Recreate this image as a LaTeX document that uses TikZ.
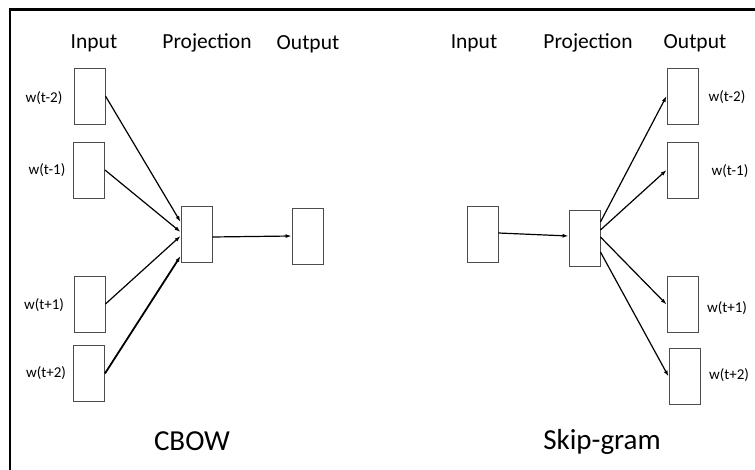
\documentclass[tikz,border=0pt]{standalone}
\usepackage{fontspec}
\setmainfont{Carlito}
\usetikzlibrary{arrows.meta}

\tikzset{
  vec/.style={draw=black!70, line width=0.9pt, minimum width=31pt, minimum height=56pt, inner sep=0pt},
  head/.style={font=\fontsize{21.5}{21.5}\selectfont, inner sep=0pt},
  word/.style={font=\fontsize{15}{15}\selectfont, inner sep=0pt},
  title/.style={font=\fontsize{29}{29}\selectfont, inner sep=0pt},
  link/.style={draw=black, line width=1.2pt, -{Latex[length=6pt,width=4pt]}},
}

\begin{document}
\begin{tikzpicture}[x=1pt, y=-1pt]
\useasboundingbox (0,0) rectangle (755,470);
\fill[white] (0,0) rectangle (755,470);
% frame along the top and left edges
\draw[line width=2.6pt] (10,475) -- (10,9.3) -- (760,9.3);

% ---------------- CBOW ----------------
\node[head] (hin1) at (94,43) {Input};
\node[head] (hpr1) at (207,43) {Projection};
\node[head] (hout1) at (308,44) {Output};

\node[vec] (c1) at (89.5,96) {};
\node[vec] (c2) at (89,170) {};
\node[vec] (c3) at (89.5,304) {};
\node[vec] (c4) at (89,373.5) {};
\node[vec] (cp) at (196.5,234) {};
\node[vec] (co) at (307.5,236) {};

\node[word] (lc1) at (44,98) {w(t-2)};
\node[word] (lc2) at (47,170) {w(t-1)};
\node[word] (lc3) at (44,305) {w(t+1)};
\node[word] (lc4) at (46,373) {w(t+2)};

\draw[link] (c1.east) -- ([yshift=12pt]cp.west);
\draw[link] (c2.east) -- ([yshift=2pt]cp.west);
\draw[link] (c3.east) -- ([yshift=-2pt]cp.west);
\draw[link, line width=1.8pt] (c4.east) -- ([yshift=-22pt]cp.west);
\draw[link] ([yshift=-3pt]cp.east) -- (co.west);

\node[title] (tc) at (192,441) {CBOW};

% ---------------- Skip-gram ----------------
\node[head] (hin2) at (474,43) {Input};
\node[head] (hpr2) at (588,43) {Projection};
\node[head] (hout2) at (695,43) {Output};

\node[vec] (si) at (482.5,234) {};
\node[vec] (sp) at (584.5,238) {};
\node[vec] (s1) at (682.5,96) {};
\node[vec] (s2) at (682.5,170) {};
\node[vec] (s3) at (682.5,304.5) {};
\node[vec] (s4) at (684.5,376.5) {};

\node[word] (ls1) at (727,97) {w(t-2)};
\node[word] (ls2) at (730,171) {w(t-1)};
\node[word] (ls3) at (727,308) {w(t+1)};
\node[word] (ls4) at (729,375) {w(t+2)};

\draw[link] ([yshift=1pt]si.east) -- ([yshift=2pt]sp.west);
\draw[link] ([yshift=16pt]sp.east) -- (s1.west);
\draw[link] ([yshift=8pt]sp.east) -- (s2.west);
\draw[link] ([yshift=1pt]sp.east) -- (s3.west);
\draw[link] ([yshift=-14pt]sp.east) -- (s4.west);

\node[title] (ts) at (602,442) {Skip-gram};
\end{tikzpicture}
\end{document}
